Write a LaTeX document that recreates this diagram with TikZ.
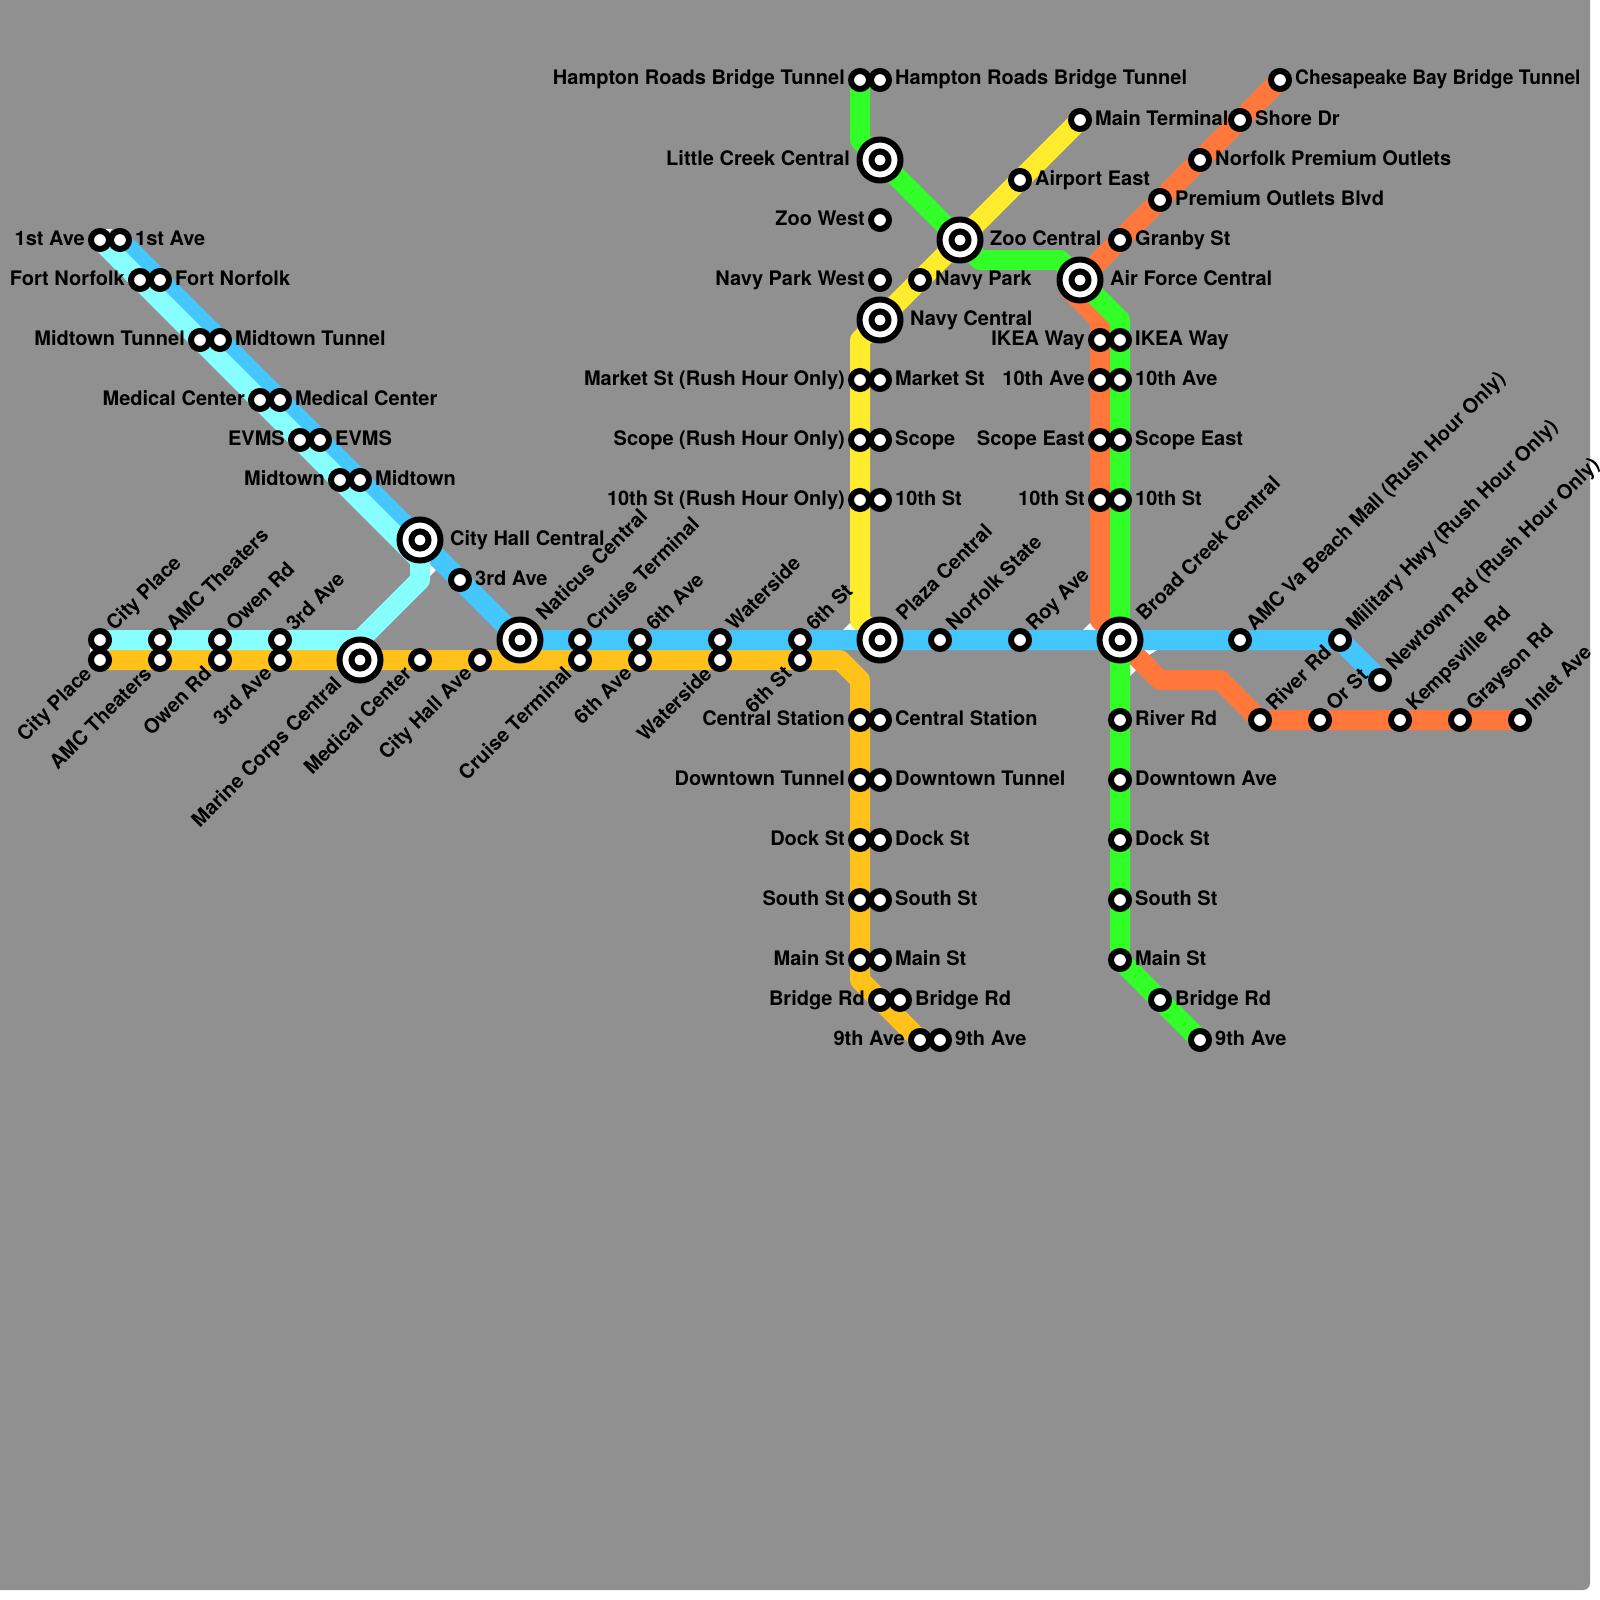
\documentclass[tikz,border=0pt]{standalone}
\usepackage{fontspec}
\setmainfont{TeX Gyre Heros}
\usetikzlibrary{backgrounds}
\definecolor{mapGrey}{HTML}{909090}
\definecolor{lineCyan}{HTML}{88FFFF}
\definecolor{lineBlue}{HTML}{44C6FF}
\definecolor{lineAmber}{HTML}{FFC11A}
\definecolor{lineGreen}{HTML}{33FF28}
\definecolor{lineYellow}{HTML}{FFEC2C}
\definecolor{lineOrange}{HTML}{FF773B}
\tikzset{
  stn/.style={circle, draw=black, line width=6pt, fill=white, minimum size=18pt, inner sep=0pt},
  hub/.style={circle, draw=black, line width=6pt, fill=white, minimum size=41pt, inner sep=0pt,
    path picture={\draw[line width=6pt] (path picture bounding box.center) circle (8.5pt);}},
  route/.style={line width=20pt, line join=round},
  lblR/.style={anchor=base west, xshift=#1, yshift=-5pt},
  lblR/.default=15pt,
  lblL/.style={anchor=base east, xshift=-#1, yshift=-5pt},
  lblL/.default=15pt,
  lblU/.style={anchor=base west, xshift=4.5pt+#1, yshift=#1-2pt, rotate=45},
  lblU/.default=10pt,
  lblD/.style={anchor=base east, xshift=3pt-#1, yshift=-5pt-#1, rotate=45},
  lblD/.default=10pt,
}
\begin{document}
\begin{tikzpicture}[x=1pt, y=-1pt, every node/.style={font=\bfseries\fontsize{20}{22}\selectfont, inner sep=0pt}]
  \useasboundingbox (0,0) rectangle (1600,1600);
  % left diagonal
  \node[stn] (cyFirst) at (100,240) {}; \node[lblL] (cyFirstT) at (cyFirst) {1st Ave};
  \node[stn] (blFirst) at (120,240) {}; \node[lblR] (blFirstT) at (blFirst) {1st Ave};
  \node[stn] (cyFort) at (140,280) {}; \node[lblL] (cyFortT) at (cyFort) {Fort Norfolk};
  \node[stn] (blFort) at (160,280) {}; \node[lblR] (blFortT) at (blFort) {Fort Norfolk};
  \node[stn] (cyTunnel) at (200,340) {}; \node[lblL] (cyTunnelT) at (cyTunnel) {Midtown Tunnel};
  \node[stn] (blTunnel) at (220,340) {}; \node[lblR] (blTunnelT) at (blTunnel) {Midtown Tunnel};
  \node[stn] (cyMedical) at (260,400) {}; \node[lblL] (cyMedicalT) at (cyMedical) {Medical Center};
  \node[stn] (blMedical) at (280,400) {}; \node[lblR] (blMedicalT) at (blMedical) {Medical Center};
  \node[stn] (cyEvms) at (300,440) {}; \node[lblL] (cyEvmsT) at (cyEvms) {EVMS};
  \node[stn] (blEvms) at (320,440) {}; \node[lblR] (blEvmsT) at (blEvms) {EVMS};
  \node[stn] (cyMidtown) at (340,480) {}; \node[lblL] (cyMidtownT) at (cyMidtown) {Midtown};
  \node[stn] (blMidtown) at (360,480) {}; \node[lblR] (blMidtownT) at (blMidtown) {Midtown};
  \node[hub] (cityHall) at (420,540) {}; \node[lblR=30pt] (cityHallT) at (cityHall) {City Hall Central};
  \node[stn] (blThird) at (460,580) {}; \node[lblR] (blThirdT) at (blThird) {3rd Ave};
  % west end
  \node[stn] (cyCity) at (100,640) {}; \node[lblU] (cyCityT) at (cyCity) {City Place};
  \node[stn] (amCity) at (100,660) {}; \node[lblD] (amCityT) at (amCity) {City Place};
  \node[stn] (cyAmc) at (160,640) {}; \node[lblU] (cyAmcT) at (cyAmc) {AMC Theaters};
  \node[stn] (amAmc) at (160,660) {}; \node[lblD] (amAmcT) at (amAmc) {AMC Theaters};
  \node[stn] (cyOwen) at (220,640) {}; \node[lblU] (cyOwenT) at (cyOwen) {Owen Rd};
  \node[stn] (amOwen) at (220,660) {}; \node[lblD] (amOwenT) at (amOwen) {Owen Rd};
  \node[stn] (cyThird) at (280,640) {}; \node[lblU] (cyThirdT) at (cyThird) {3rd Ave};
  \node[stn] (amThird) at (280,660) {}; \node[lblD] (amThirdT) at (amThird) {3rd Ave};
  \node[hub] (marine) at (360,660) {}; \node[lblD=20pt] (marineT) at (marine) {Marine Corps Central};
  \node[stn] (amMedical) at (420,660) {}; \node[lblD] (amMedicalT) at (amMedical) {Medical Center};
  \node[stn] (amHall) at (480,660) {}; \node[lblD] (amHallT) at (amHall) {City Hall Ave};
  \node[hub] (naticus) at (520,640) {}; \node[lblU=20pt] (naticusT) at (naticus) {Naticus Central};
  \node[stn] (blCruise) at (580,640) {}; \node[lblU] (blCruiseT) at (blCruise) {Cruise Terminal};
  \node[stn] (amCruise) at (580,660) {}; \node[lblD] (amCruiseT) at (amCruise) {Cruise Terminal};
  \node[stn] (blSixth) at (640,640) {}; \node[lblU] (blSixthT) at (blSixth) {6th Ave};
  \node[stn] (amSixth) at (640,660) {}; \node[lblD] (amSixthT) at (amSixth) {6th Ave};
  \node[stn] (blWater) at (720,640) {}; \node[lblU] (blWaterT) at (blWater) {Waterside};
  \node[stn] (amWater) at (720,660) {}; \node[lblD] (amWaterT) at (amWater) {Waterside};
  \node[stn] (blSixSt) at (800,640) {}; \node[lblU] (blSixStT) at (blSixSt) {6th St};
  \node[stn] (amSixSt) at (800,660) {}; \node[lblD] (amSixStT) at (amSixSt) {6th St};
  % north column
  \node[stn] (grHampton) at (860,80) {}; \node[lblL] (grHamptonT) at (grHampton) {Hampton Roads Bridge Tunnel};
  \node[stn] (stHampton) at (880,80) {}; \node[lblR] (stHamptonT) at (stHampton) {Hampton Roads Bridge Tunnel};
  \node[hub] (littleCreek) at (880,160) {}; \node[lblL=30pt] (littleCreekT) at (littleCreek) {Little Creek Central};
  \node[stn] (zooWest) at (880,220) {}; \node[lblL] (zooWestT) at (zooWest) {Zoo West};
  \node[stn] (navyWest) at (880,280) {}; \node[lblL] (navyWestT) at (navyWest) {Navy Park West};
  \node[stn] (navyPark) at (920,280) {}; \node[lblR] (navyParkT) at (navyPark) {Navy Park};
  \node[hub] (navyCentral) at (880,320) {}; \node[lblR=30pt] (navyCentralT) at (navyCentral) {Navy Central};
  \node[stn] (yeMarket) at (860,380) {}; \node[lblL] (yeMarketT) at (yeMarket) {Market St (Rush Hour Only)};
  \node[stn] (stMarket) at (880,380) {}; \node[lblR] (stMarketT) at (stMarket) {Market St};
  \node[stn] (yeScope) at (860,440) {}; \node[lblL] (yeScopeT) at (yeScope) {Scope (Rush Hour Only)};
  \node[stn] (stScope) at (880,440) {}; \node[lblR] (stScopeT) at (stScope) {Scope};
  \node[stn] (yeTenth) at (860,500) {}; \node[lblL] (yeTenthT) at (yeTenth) {10th St (Rush Hour Only)};
  \node[stn] (stTenth) at (880,500) {}; \node[lblR] (stTenthT) at (stTenth) {10th St};
  \node[hub] (plaza) at (880,640) {}; \node[lblU=20pt] (plazaT) at (plaza) {Plaza Central};
  \node[stn] (mainTerm) at (1080,120) {}; \node[lblR] (mainTermT) at (mainTerm) {Main Terminal};
  \node[stn] (airport) at (1020,180) {}; \node[lblR] (airportT) at (airport) {Airport East};
  \node[hub] (zoo) at (960,240) {}; \node[lblR=30pt] (zooT) at (zoo) {Zoo Central};
  % south column
  \node[stn] (amCentral) at (860,720) {}; \node[lblL] (amCentralT) at (amCentral) {Central Station};
  \node[stn] (stCentral) at (880,720) {}; \node[lblR] (stCentralT) at (stCentral) {Central Station};
  \node[stn] (amTunnel) at (860,780) {}; \node[lblL] (amTunnelT) at (amTunnel) {Downtown Tunnel};
  \node[stn] (stTunnel) at (880,780) {}; \node[lblR] (stTunnelT) at (stTunnel) {Downtown Tunnel};
  \node[stn] (amDock) at (860,840) {}; \node[lblL] (amDockT) at (amDock) {Dock St};
  \node[stn] (stDock) at (880,840) {}; \node[lblR] (stDockT) at (stDock) {Dock St};
  \node[stn] (amSouth) at (860,900) {}; \node[lblL] (amSouthT) at (amSouth) {South St};
  \node[stn] (stSouth) at (880,900) {}; \node[lblR] (stSouthT) at (stSouth) {South St};
  \node[stn] (amMain) at (860,960) {}; \node[lblL] (amMainT) at (amMain) {Main St};
  \node[stn] (stMain) at (880,960) {}; \node[lblR] (stMainT) at (stMain) {Main St};
  \node[stn] (amBridge) at (880,1000) {}; \node[lblL] (amBridgeT) at (amBridge) {Bridge Rd};
  \node[stn] (stBridge) at (900,1000) {}; \node[lblR] (stBridgeT) at (stBridge) {Bridge Rd};
  \node[stn] (amNinth) at (920,1040) {}; \node[lblL] (amNinthT) at (amNinth) {9th Ave};
  \node[stn] (stNinth) at (940,1040) {}; \node[lblR] (stNinthT) at (stNinth) {9th Ave};
  % east side
  \node[stn] (blNorfolk) at (940,640) {}; \node[lblU] (blNorfolkT) at (blNorfolk) {Norfolk State};
  \node[stn] (blRoy) at (1020,640) {}; \node[lblU] (blRoyT) at (blRoy) {Roy Ave};
  \node[hub] (broadCreek) at (1120,640) {}; \node[lblU=20pt] (broadCreekT) at (broadCreek) {Broad Creek Central};
  \node[stn] (blBeach) at (1240,640) {}; \node[lblU] (blBeachT) at (blBeach) {AMC Va Beach Mall (Rush Hour Only)};
  \node[stn] (blHwy) at (1340,640) {}; \node[lblU] (blHwyT) at (blHwy) {Military Hwy (Rush Hour Only)};
  \node[stn] (blNewtown) at (1380,680) {}; \node[lblU] (blNewtownT) at (blNewtown) {Newtown Rd (Rush Hour Only)};
  \node[stn] (orRiver) at (1260,720) {}; \node[lblU] (orRiverT) at (orRiver) {River Rd};
  \node[stn] (orOr) at (1320,720) {}; \node[lblU] (orOrT) at (orOr) {Or St};
  \node[stn] (orKemps) at (1400,720) {}; \node[lblU] (orKempsT) at (orKemps) {Kempsville Rd};
  \node[stn] (orGrayson) at (1460,720) {}; \node[lblU] (orGraysonT) at (orGrayson) {Grayson Rd};
  \node[stn] (orInlet) at (1520,720) {}; \node[lblU] (orInletT) at (orInlet) {Inlet Ave};
  \node[stn] (orBay) at (1280,80) {}; \node[lblR] (orBayT) at (orBay) {\scalebox{0.96}[1]{Chesapeake Bay Bridge Tunnel}};
  \node[stn] (orShore) at (1240,120) {}; \node[lblR] (orShoreT) at (orShore) {Shore Dr};
  \node[stn] (orOutlets) at (1200,160) {}; \node[lblR] (orOutletsT) at (orOutlets) {Norfolk Premium Outlets};
  \node[stn] (orBlvd) at (1160,200) {}; \node[lblR] (orBlvdT) at (orBlvd) {Premium Outlets Blvd};
  \node[stn] (orGranby) at (1120,240) {}; \node[lblR] (orGranbyT) at (orGranby) {Granby St};
  \node[hub] (airForce) at (1080,280) {}; \node[lblR=30pt] (airForceT) at (airForce) {Air Force Central};
  \node[stn] (orIkea) at (1100,340) {}; \node[lblL] (orIkeaT) at (orIkea) {IKEA Way};
  \node[stn] (grIkea) at (1120,340) {}; \node[lblR] (grIkeaT) at (grIkea) {IKEA Way};
  \node[stn] (orTenAve) at (1100,380) {}; \node[lblL] (orTenAveT) at (orTenAve) {10th Ave};
  \node[stn] (grTenAve) at (1120,380) {}; \node[lblR] (grTenAveT) at (grTenAve) {10th Ave};
  \node[stn] (orScope) at (1100,440) {}; \node[lblL] (orScopeT) at (orScope) {Scope East};
  \node[stn] (grScope) at (1120,440) {}; \node[lblR] (grScopeT) at (grScope) {Scope East};
  \node[stn] (orTenth) at (1100,500) {}; \node[lblL] (orTenthT) at (orTenth) {10th St};
  \node[stn] (grTenth) at (1120,500) {}; \node[lblR] (grTenthT) at (grTenth) {10th St};
  \node[stn] (grRiver) at (1120,720) {}; \node[lblR] (grRiverT) at (grRiver) {River Rd};
  \node[stn] (grDowntown) at (1120,780) {}; \node[lblR] (grDowntownT) at (grDowntown) {Downtown Ave};
  \node[stn] (grDock) at (1120,840) {}; \node[lblR] (grDockT) at (grDock) {Dock St};
  \node[stn] (grSouth) at (1120,900) {}; \node[lblR] (grSouthT) at (grSouth) {South St};
  \node[stn] (grMain) at (1120,960) {}; \node[lblR] (grMainT) at (grMain) {Main St};
  \node[stn] (grBridge) at (1160,1000) {}; \node[lblR] (grBridgeT) at (grBridge) {Bridge Rd};
  \node[stn] (grNinth) at (1200,1040) {}; \node[lblR] (grNinthT) at (grNinth) {9th Ave};
  % bends
  \coordinate (cyBendA) at (420,560);
  \coordinate (cyBendB) at (420,580);
  \coordinate (cyBendC) at (360,640);
  \coordinate (amBendA) at (840,660);
  \coordinate (amBendB) at (860,680);
  \coordinate (amBendC) at (860,980);
  \coordinate (grBendA) at (860,140);
  \coordinate (grBendB) at (980,260);
  \coordinate (grBendC) at (1060,260);
  \coordinate (grBendD) at (1120,320);
  \coordinate (yeBendA) at (860,340);
  \coordinate (yeBendB) at (860,620);
  \coordinate (orBendA) at (1070,290);
  \coordinate (orBendB) at (1100,320);
  \coordinate (orBendC) at (1100,620);
  \coordinate (orBendD) at (1160,680);
  \coordinate (orBendE) at (1220,680);
  \begin{scope}[on background layer]
    \fill[mapGrey] (0,0) -- (1590,0) [rounded corners=7pt] -- (1590,1590) [sharp corners] -- (0,1590) -- cycle;
    \fill[white] (430,564) -- (436,570) -- (430,576) -- cycle;
    \fill[white] (843,630) -- (850,623) -- (857,630) -- cycle;
    \fill[white] (1083,630) -- (1090,623) -- (1097,630) -- cycle;
    \fill[white] (1144,650) -- (1157,650) -- (1149,655) -- cycle;
    \fill[white] (1130,664) -- (1136,670) -- (1130,676) -- cycle;
    \fill[white] (90,647) -- (93,650) -- (90,653) -- cycle;
    \fill[white] (106,229) -- (112,229) -- (109,233) -- cycle;
    \draw[route, lineOrange] (orBay.center) -- (orShore.center) -- (orOutlets.center) -- (orBlvd.center) -- (orGranby.center) -- (airForce.center) -- (orBendA) -- (orBendB) -- (orIkea.center) -- (orTenAve.center) -- (orScope.center) -- (orTenth.center) -- (orBendC) -- (broadCreek.center) -- (orBendD) -- (orBendE) -- (orRiver.center) -- (orOr.center) -- (orKemps.center) -- (orGrayson.center) -- (orInlet.center);
    \draw[route, lineGreen] (grHampton.center) -- (grBendA) -- (littleCreek.center) -- (zoo.center) -- (grBendB) -- (grBendC) -- (airForce.center) -- (grBendD) -- (grIkea.center) -- (grTenAve.center) -- (grScope.center) -- (grTenth.center) -- (broadCreek.center) -- (grRiver.center) -- (grDowntown.center) -- (grDock.center) -- (grSouth.center) -- (grMain.center) -- (grBridge.center) -- (grNinth.center);
    \draw[route, lineYellow] (mainTerm.center) -- (airport.center) -- (zoo.center) -- (navyPark.center) -- (navyCentral.center) -- (yeBendA) -- (yeMarket.center) -- (yeScope.center) -- (yeTenth.center) -- (yeBendB) -- (plaza.center);
    \draw[route, lineAmber] (amCity.center) -- (amAmc.center) -- (amOwen.center) -- (amThird.center) -- (marine.center) -- (amMedical.center) -- (amHall.center) -- (amCruise.center) -- (amSixth.center) -- (amWater.center) -- (amSixSt.center) -- (amBendA) -- (amBendB) -- (amCentral.center) -- (amTunnel.center) -- (amDock.center) -- (amSouth.center) -- (amMain.center) -- (amBendC) -- (amBridge.center) -- (amNinth.center);
    \draw[route, lineBlue] (blFirst.center) -- (blFort.center) -- (blTunnel.center) -- (blMedical.center) -- (blEvms.center) -- (blMidtown.center) -- (cityHall.center) -- (blThird.center) -- (naticus.center) -- (blCruise.center) -- (blSixth.center) -- (blWater.center) -- (blSixSt.center) -- (plaza.center) -- (blNorfolk.center) -- (blRoy.center) -- (broadCreek.center) -- (blBeach.center) -- (blHwy.center) -- (blNewtown.center);
    \draw[route, lineCyan] (cyFirst.center) -- (cyFort.center) -- (cyTunnel.center) -- (cyMedical.center) -- (cyEvms.center) -- (cyMidtown.center) -- (cyBendA) -- (cyBendB) -- (cyBendC) -- (cyThird.center) -- (cyOwen.center) -- (cyAmc.center) -- (cyCity.center);
  \end{scope}
\end{tikzpicture}
\end{document}
